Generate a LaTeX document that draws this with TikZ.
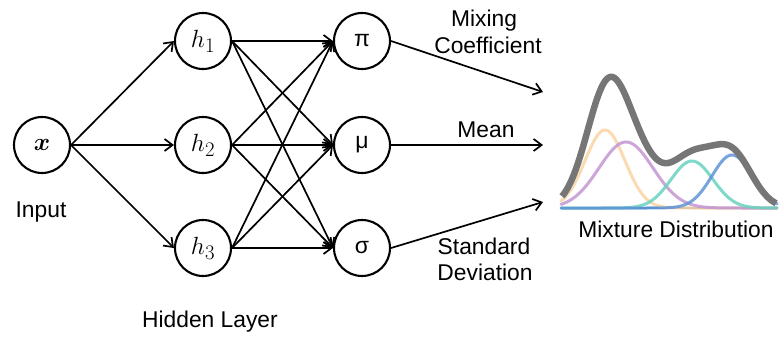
\documentclass[tikz,border=0pt]{standalone}
\usepackage{amsmath}
\usepackage{bm}
\usepackage{fontspec}
\setmainfont{Liberation Sans}
\usetikzlibrary{arrows.meta}
\definecolor{gorange}{RGB}{250,212,165}
\definecolor{gpurple}{RGB}{195,150,210}
\definecolor{gteal}{RGB}{105,210,192}
\definecolor{gblue}{RGB}{95,148,215}
\definecolor{ggray}{RGB}{118,118,118}
\definecolor{gbase}{RGB}{80,130,180}
\begin{document}
\begin{tikzpicture}[x=1pt,y=-1pt,
  neuron/.style={circle,draw,line width=2.1pt,minimum size=56pt,inner sep=0pt},
  conn/.style={line width=1.7pt,-{Straight Barb[length=8pt,width=12pt,line width=1.7pt]}},
  lbl/.style={font=\fontsize{22.8}{27}\selectfont,anchor=base,inner sep=0pt},
  mth/.style={font=\fontsize{28}{32}\selectfont},
  grk/.style={font=\fontsize{23}{27}\selectfont},
  comp/.style={line width=3pt,opacity=0.85,line cap=round},
]
\useasboundingbox (0,0) rectangle (780,340);
% nodes
\node[neuron,mth] (x) at (42,145) {$\bm{x}$};
\node[neuron,mth] (h1) at (203,41) {$h_1$};
\node[neuron,mth] (h2) at (203,145) {$h_2$};
\node[neuron,mth] (h3) at (203,248) {$h_3$};
\node[neuron,grk] (pi) at (362,41) {π};
\node[neuron,grk] (mu) at (362,145) {μ};
\node[neuron,grk] (sg) at (362,248) {σ};
% connectors
\foreach \h in {h1,h2,h3} {
  \draw[conn] (x.east) -- (\h.west);
  \foreach \o in {pi,mu,sg} { \draw[conn] (\h.east) -- (\o.west); }
}
\coordinate (e1) at (543,92);
\coordinate (e2) at (543,145);
\coordinate (e3) at (543,202);
\draw[conn] (pi.east) -- (e1);
\draw[conn] (mu.east) -- (e2);
\draw[conn] (sg.east) -- (e3);
% labels
\node[lbl] (lin) at (41,217) {Input};
\node[lbl] (lhid) at (210,327) {Hidden Layer};
\node[lbl] (lmix1) at (484,26) {Mixing};
\node[lbl] (lmix2) at (488,53) {Coefficient};
\node[lbl] (lmean) at (486,137) {Mean};
\node[lbl] (lsd1) at (484,254) {Standard};
\node[lbl] (lsd2) at (485,280) {Deviation};
\node[lbl] (lmd) at (676,237) {Mixture Distribution};
% mixture plot
\draw[gbase,line width=2.6pt] (560,208) -- (778,208);
\draw[comp,gorange] plot[domain=561:777,samples=160] (\x,{208-78*exp(-0.5*((\x-605)/20)^2)});
\draw[comp,gpurple] plot[domain=561:777,samples=160] (\x,{208-66*exp(-0.5*((\x-626)/27)^2)});
\draw[comp,gteal] plot[domain=561:777,samples=160] (\x,{208-47*exp(-0.5*((\x-692)/21)^2)});
\draw[comp,gblue] plot[domain=561:777,samples=160] (\x,{208-53*exp(-0.5*((\x-732)/20)^2)});
\draw[ggray,line width=6.5pt,line join=round] plot[smooth,domain=562:776,samples=160] (\x,{208-78*exp(-0.5*((\x-605)/20)^2)-66*exp(-0.5*((\x-626)/27)^2)-47*exp(-0.5*((\x-692)/21)^2)-53*exp(-0.5*((\x-732)/20)^2)});
\end{tikzpicture}
\end{document}
